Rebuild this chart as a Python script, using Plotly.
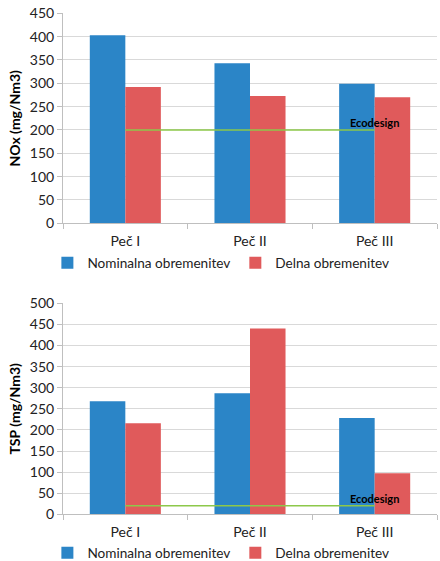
import plotly.graph_objects as go

# Furnaces (categories)
categories = ["Peč I", "Peč II", "Peč III"]

# NOx emissions (mg/Nm3)
nox_nominal = [403, 343, 299]
nox_partial = [292, 273, 270]
nox_ecodesign = 200

# TSP emissions (mg/Nm3)
tsp_nominal = [268, 287, 228]
tsp_partial = [216, 440, 97]
tsp_ecodesign = 20

series_names = ["Nominalna obremenitev", "Delna obremenitev"]
limit_label = "Ecodesign"

BLUE = "#2B85C7"
RED = "#E05A5B"
GREEN = "#8DC84A"
GRID = "#D9D9D9"
FONT = "Lato"
FS = 14

fig = go.Figure()


def add_panel(nominal, partial, limit, xa, ya, legend):
    fig.add_trace(go.Bar(x=categories, y=nominal, name=series_names[0],
                         marker=dict(color=BLUE, line=dict(width=0)),
                         xaxis=xa, yaxis=ya, legend=legend))
    fig.add_trace(go.Bar(x=categories, y=partial, name=series_names[1],
                         marker=dict(color=RED, line=dict(width=0)),
                         xaxis=xa, yaxis=ya, legend=legend))
    labels = [""] * (len(categories) - 1) + [limit_label]
    fig.add_trace(go.Scatter(x=categories, y=[limit] * len(categories),
                             mode="lines+text", text=labels,
                             textposition="top center",
                             textfont=dict(family=FONT, size=11, color="black", weight="bold"),
                             line=dict(color=GREEN, width=1.5),
                             showlegend=False, xaxis=xa, yaxis=ya, cliponaxis=False))


add_panel(nox_nominal, nox_partial, nox_ecodesign, "x", "y", "legend")
add_panel(tsp_nominal, tsp_partial, tsp_ecodesign, "x2", "y2", "legend2")

xdom = [63 / 440, 437 / 440]
top_dom = [(561 - 223.3) / 561, (561 - 13.3) / 561]
bot_dom = [(561 - 514.3) / 561, (561 - 303.3) / 561]

xcommon = dict(domain=xdom, showgrid=False, showline=True, linecolor="#BFBFBF",
               ticks="outside", tickson="boundaries", ticklen=5, tickcolor="#BFBFBF",
               tickfont=dict(family=FONT, size=FS, color="#222"), ticklabelstandoff=5)
ycommon = dict(showgrid=True, gridcolor=GRID, showline=True, linecolor="#BFBFBF",
               ticks="outside", ticklen=5, tickcolor="#BFBFBF", zeroline=False,
               tickfont=dict(family=FONT, size=FS, color="#222"))
title_font = dict(family=FONT, size=FS, color="black", weight="bold")
legend_common = dict(orientation="h", x=0.502, xanchor="center",
                     bgcolor="rgba(0,0,0,0)",
                     font=dict(family=FONT, size=13.6, color="#222"), itemwidth=30)

fig.update_layout(
    width=440, height=561,
    margin=dict(l=0, r=0, t=0, b=0, autoexpand=False),
    paper_bgcolor="white", plot_bgcolor="white",
    barmode="group", bargap=0.43, bargroupgap=0,
    font=dict(family=FONT, size=FS, color="#222"),
    xaxis=dict(**xcommon, anchor="y"),
    xaxis2=dict(**xcommon, anchor="y2"),
    yaxis=dict(**ycommon, domain=top_dom, range=[0, 450], dtick=50, anchor="x",
               title=dict(text="NOx (mg/Nm3)", standoff=5, font=title_font)),
    yaxis2=dict(**ycommon, domain=bot_dom, range=[0, 500], dtick=50, anchor="x2",
                title=dict(text="TSP (mg/Nm3)", standoff=5, font=title_font)),
    legend=dict(**legend_common, y=(561 - 263) / 561, yanchor="middle"),
    legend2=dict(**legend_common, y=(561 - 553) / 561, yanchor="middle"),
)

fig.write_html("out.html")
